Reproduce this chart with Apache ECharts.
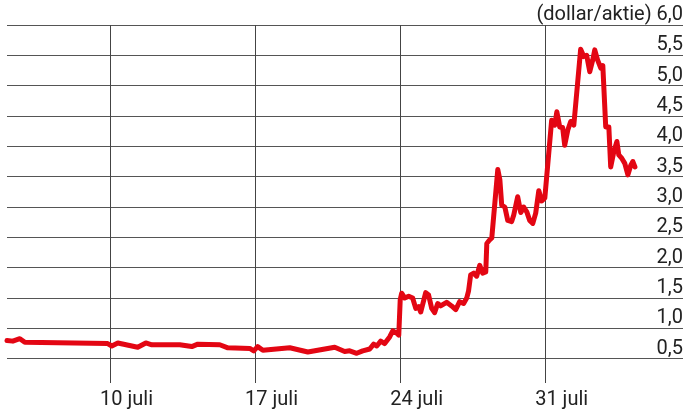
<!DOCTYPE html>
<html><head><meta charset="utf-8">
<script src="https://cdn.jsdelivr.net/npm/echarts@6/dist/echarts.min.js"></script>
<style>html,body{margin:0;padding:0;background:#fff}#c{width:690px;height:414px}</style>
</head><body><div id="c"></div>
<script>
// Day of July (fractional) and share price in dollar
const days = [5.00,5.28,5.62,5.86,9.86,10.06,10.35,11.31,11.70,11.99,13.34,13.92,14.21,15.27,15.66,16.72,16.91,17.10,17.35,18.65,19.52,20.82,21.30,21.54,21.88,22.17,22.51,22.70,22.85,23.04,23.23,23.47,23.62,23.81,23.91,23.98,24.05,24.20,24.39,24.58,24.73,24.87,24.97,25.21,25.35,25.50,25.64,25.79,25.93,26.22,26.46,26.66,26.85,27.04,27.19,27.28,27.38,27.53,27.67,27.82,27.96,28.11,28.16,28.30,28.40,28.69,28.79,28.88,29.03,29.17,29.36,29.46,29.65,29.80,29.94,30.09,30.23,30.38,30.52,30.67,30.81,30.96,31.29,31.44,31.54,31.68,31.82,31.92,32.07,32.21,32.36,32.69,32.84,32.98,33.13,33.27,33.37,33.51,33.66,33.76,33.90,34.05,34.14,34.29,34.44,34.53,34.68,34.82,34.97,35.11,35.21,35.31];
const prices = [0.80,0.79,0.83,0.77,0.75,0.71,0.76,0.69,0.76,0.73,0.73,0.70,0.74,0.73,0.68,0.67,0.63,0.70,0.64,0.68,0.61,0.69,0.62,0.63,0.59,0.63,0.66,0.74,0.71,0.79,0.75,0.86,0.96,0.92,0.89,1.47,1.58,1.50,1.53,1.50,1.33,1.36,1.27,1.59,1.55,1.33,1.26,1.41,1.37,1.43,1.37,1.31,1.44,1.41,1.50,1.62,1.88,1.91,1.86,2.04,1.91,1.93,2.40,2.46,2.49,3.62,3.45,3.03,3.00,2.78,2.76,2.87,3.17,2.91,3.00,2.92,2.78,2.73,2.90,3.27,3.10,3.15,4.43,4.35,4.57,4.32,4.31,4.02,4.27,4.41,4.35,5.60,5.48,5.50,5.23,5.42,5.59,5.42,5.29,5.33,4.32,4.32,3.66,3.91,4.08,3.86,3.80,3.72,3.53,3.69,3.75,3.66];
const dateTicks = [10,17,24,31];
const monthName = 'juli';
const priceTicks = [0.5,1.0,1.5,2.0,2.5,3.0,3.5,4.0,4.5,5.0,5.5,6.0];
const unitLabel = '(dollar/aktie)';

const FONT = 'Roboto';
const chart = echarts.init(document.getElementById('c'), null, {renderer:'canvas'});
chart.setOption({
  animation:false,
  grid:{left:7, right:7, top:25, bottom:31},
  xAxis:{
    type:'value', min:5.0, max:37.63,
    axisLine:{show:false},
    axisTick:{show:false, customValues:dateTicks},
    splitLine:{show:true, lineStyle:{color:'#444', width:1}},
    axisLabel:{
      customValues:dateTicks, margin:7,
      formatter: v => '{a|' + v + ' ' + monthName + '}',
      rich:{a:{padding:[0,0,0,32], fontSize:20, color:'#222', fontFamily:FONT}}
    }
  },
  yAxis:{
    type:'value', position:'right', min:0.1, max:6.0,
    axisLine:{show:false},
    axisTick:{show:false, customValues:priceTicks},
    splitLine:{show:true, lineStyle:{color:'#555', width:1}},
    axisLabel:{
      inside:true, customValues:priceTicks, margin:0, verticalAlign:'bottom',
      fontSize:20, color:'#222', fontFamily:FONT,
      formatter: v => (Math.abs(v-6) < 1e-9 ? unitLabel + ' ' : '') + v.toFixed(1).replace('.', ',')
    }
  },
  series:[{
    type:'line', data: days.map((d,i)=>[d, prices[i]]),
    showSymbol:false, symbol:'none',
    lineStyle:{color:'#e30613', width:5, join:'round', cap:'round'}
  }]
});
</script></body></html>
